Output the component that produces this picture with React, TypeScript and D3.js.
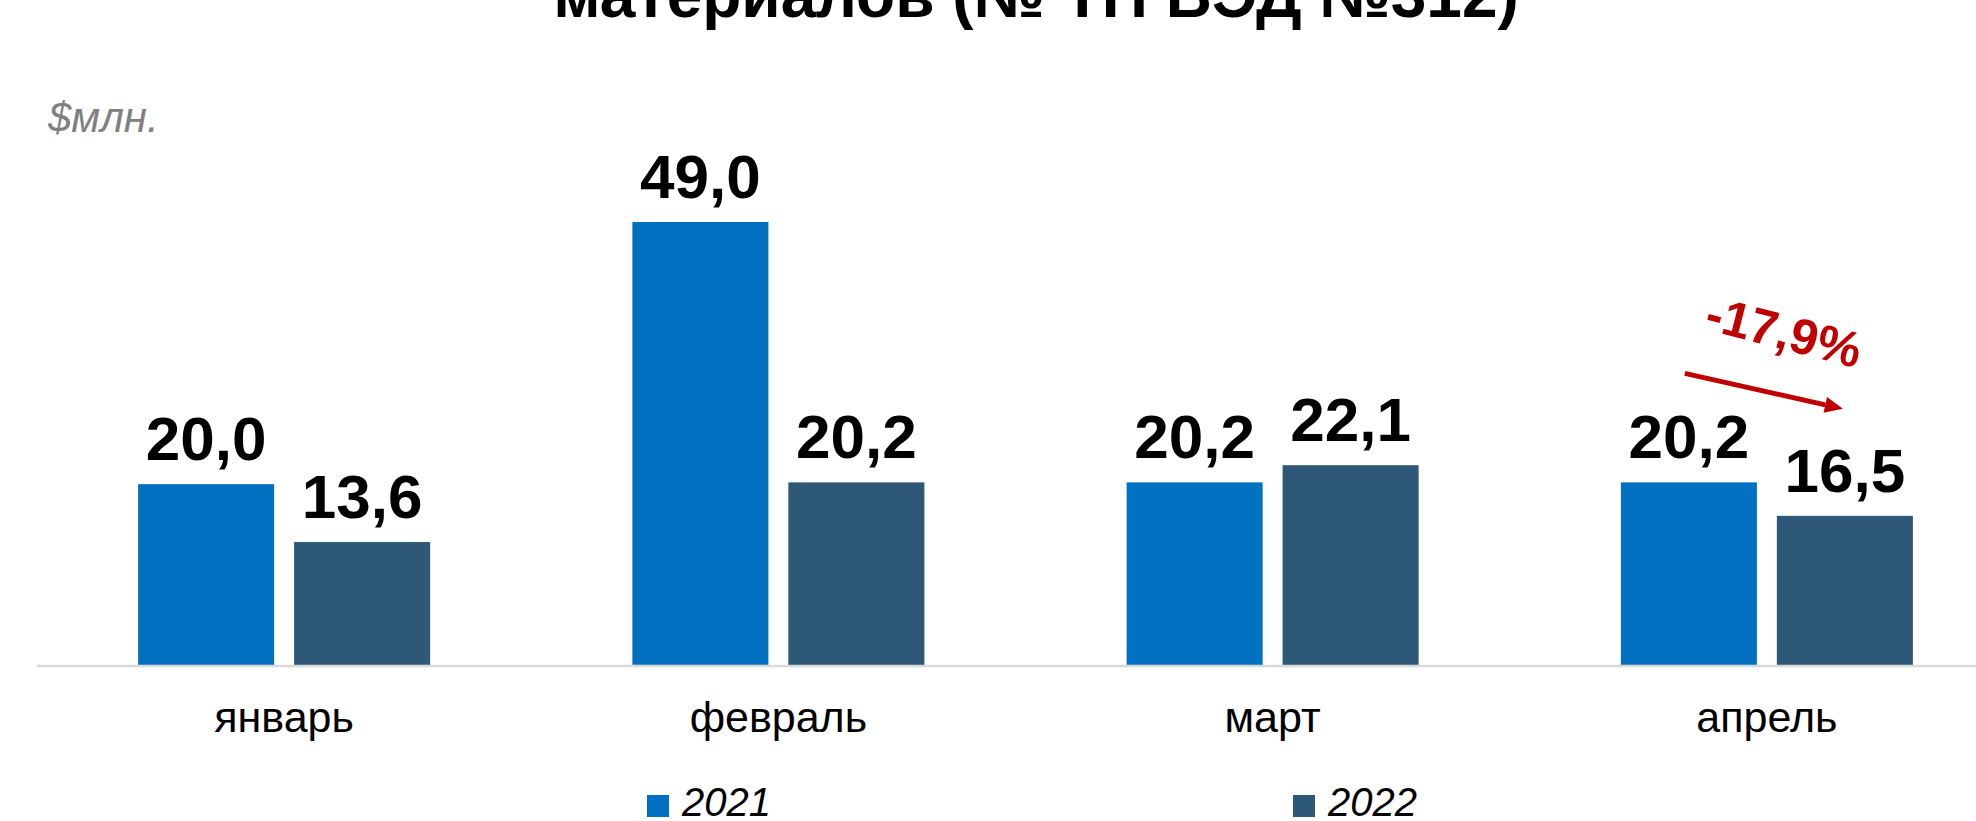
import React from "react";
import * as d3 from "d3";

const months = ["январь", "февраль", "март", "апрель"];
const seriesNames = ["2021", "2022"];
const values2021 = [20.0, 49.0, 20.2, 20.2];
const values2022 = [13.6, 20.2, 22.1, 16.5];
const seriesColors = ["#0070C0", "#2D5878"];
const titleText = "материалов (№ ТН ВЭД №312)";
const unitText = "$млн.";
const changeText = "-17,9%";

const W = 1976;
const H = 821;
const FONT = "'Liberation Sans', Arial, sans-serif";

export default function App() {
  const baseY = 665;
  const x0 = d3.scaleBand<string>().domain(months).range([37, 2014]).padding(0);
  const groupW = 292;
  const x1 = d3
    .scaleBand<string>()
    .domain(seriesNames)
    .range([0, groupW])
    .paddingInner(0.128)
    .paddingOuter(0);
  const y = d3.scaleLinear().domain([0, 49]).range([baseY, 222]);
  const data = [values2021, values2022];
  const fmt = (v: number) => v.toFixed(1).replace(".", ",");
  const groupOffset = (x0.bandwidth() - groupW) / 2;

  // arrow for April change
  const aprX = x0("апрель")! + groupOffset;
  const ax1 = aprX + x1("2021")! + 64;
  const ay1 = y(values2021[3]) - 109;
  const ax2 = aprX + x1("2022")! + 66;
  const ay2 = y(values2022[3]) - 107;
  const ang = Math.atan2(ay2 - ay1, ax2 - ax1);
  const headL = 18;
  const headW = 8;
  const lx2 = ax2 - Math.cos(ang) * headL;
  const ly2 = ay2 - Math.sin(ang) * headL;
  const px = -Math.sin(ang);
  const py = Math.cos(ang);
  const head = `M${ax2},${ay2} L${lx2 + px * headW},${ly2 + py * headW} L${lx2 - px * headW},${ly2 - py * headW} Z`;

  return (
    <svg
      width={W}
      height={H}
      style={{ position: "absolute", left: 0, top: 0, background: "#fff" }}
      fontFamily={FONT}
    >
      <rect x={0} y={0} width={W} height={H} fill="#fff" />
      <text
        x={1036}
        y={17}
        textAnchor="middle"
        fontSize={64}
        fontWeight="bold"
        fill="#000"
      >
        {titleText}
      </text>
      <text x={48} y={132} fontSize={42} fontStyle="italic" fill="#808080">
        {unitText}
      </text>

      {months.map((m, i) => (
        <g key={m} transform={`translate(${x0(m)! + groupOffset},0)`}>
          {seriesNames.map((s, j) => {
            const v = data[j][i];
            const bx = x1(s)!;
            return (
              <g key={s}>
                <rect
                  x={bx}
                  y={y(v)}
                  width={x1.bandwidth()}
                  height={baseY - y(v)}
                  fill={seriesColors[j]}
                />
                <text
                  x={bx + x1.bandwidth() / 2}
                  y={y(v) - 24}
                  textAnchor="middle"
                  fontSize={62}
                  fontWeight="bold"
                  fill="#000"
                >
                  {fmt(v)}
                </text>
              </g>
            );
          })}
        </g>
      ))}

      <line x1={37} x2={W} y1={baseY + 1} y2={baseY + 1} stroke="#D9D9D9" strokeWidth={2.5} />

      {months.map((m) => (
        <text
          key={m}
          x={x0(m)! + x0.bandwidth() / 2}
          y={732}
          textAnchor="middle"
          fontSize={43}
          fill="#000"
        >
          {m}
        </text>
      ))}

      <line x1={ax1} y1={ay1} x2={lx2} y2={ly2} stroke="#C00000" strokeWidth={5} />
      <path d={head} fill="#C00000" />
      <text
        transform={`translate(1703,329) rotate(14.3)`}
        fontSize={50}
        fontWeight="bold"
        fill="#C00000"
      >
        {changeText}
      </text>

      {seriesNames.map((s, j) => {
        const lx = [647, 1293][j];
        return (
          <g key={s}>
            <rect x={lx} y={795} width={22} height={22} fill={seriesColors[j]} />
            <text x={lx + 35} y={816} fontSize={40} fontStyle="italic" fill="#000">
              {s}
            </text>
          </g>
        );
      })}
    </svg>
  );
}
